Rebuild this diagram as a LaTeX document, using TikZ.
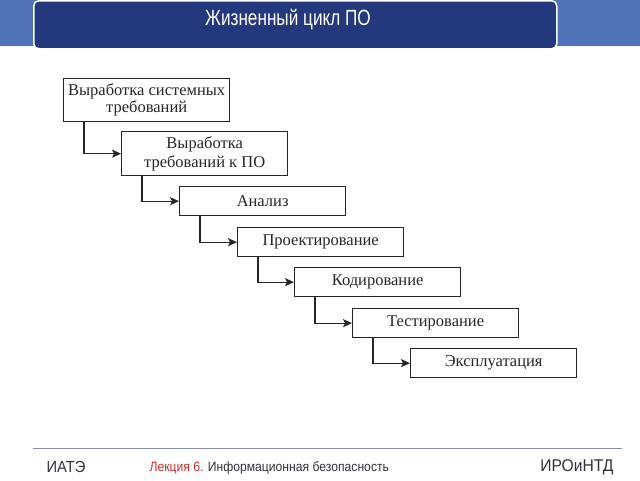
\documentclass[tikz,border=0pt]{standalone}
\usepackage{fontspec}
\setmainfont{Liberation Serif}
\newfontfamily\hdfont[FakeStretch=0.78]{Liberation Sans}
\newfontfamily\ftfont[FakeStretch=0.92]{Liberation Sans}
\newfontfamily\ftnarrow[FakeStretch=0.9]{Liberation Sans}
\usetikzlibrary{arrows.meta}
\definecolor{band}{RGB}{79,116,186}
\definecolor{navy}{RGB}{36,56,125}
\definecolor{fline}{RGB}{128,142,184}
\definecolor{ftext}{RGB}{50,50,60}
\definecolor{fred}{RGB}{220,40,40}
\tikzset{
  stage/.style={draw=black!85, line width=1.3pt, fill=white, minimum width=166pt, align=center, inner sep=0pt, text=black!85, font=\fontsize{16.5}{17}\selectfont},
  link/.style={draw=black!85, line width=1.3pt, -{Stealth[length=9pt,width=8pt,inset=2pt]}},
}
\begin{document}
\begin{tikzpicture}[x=1pt,y=-1pt]
\useasboundingbox (0,0) rectangle (640,480);
\fill[white] (0,0) rectangle (640,480);
% header
\fill[band] (0,0) rectangle (640,46);
\node[draw=white, line width=1.5pt, fill=navy, rounded corners=5pt, minimum width=523pt, minimum height=48pt, anchor=north west] (title) at (33,0) {};
\node[text=white, font=\hdfont\fontsize{22}{24}\selectfont] (titletext) at (288,20) {Жизненный цикл ПО};
% stages
\node[stage, minimum height=43pt, anchor=north west] (s1) at (63,78) {Выработка системных\\требований};
\node[stage, minimum height=44pt, anchor=north west, font=\fontsize{16.5}{19.5}\selectfont] (s2) at (121,131) {Выработка\\требований к ПО};
\node[stage, minimum height=29pt, anchor=north west] (s3) at (179,186) {Анализ};
\node[stage, minimum height=29pt, anchor=north west] (s4) at (237,227) {Проектирование};
\node[stage, minimum height=29pt, anchor=north west] (s5) at (294,267) {Кодирование};
\node[stage, minimum height=29pt, anchor=north west] (s6) at (352,308) {Тестирование};
\node[stage, minimum height=29pt, anchor=north west] (s7) at (410,348) {Эксплуатация};
% connectors
\foreach \a/\b in {s1/s2,s2/s3,s3/s4,s4/s5,s5/s6,s6/s7}{
  \draw[link] ([xshift=21pt]\a.south west) |- (\b.west);
}
% footer
\coordinate (fl) at (33,448);
\coordinate (fr) at (622,448);
\draw[fline, line width=1pt] (fl) -- (fr);
\node[anchor=west, text=ftext, font=\ftfont\fontsize{16}{17}\selectfont] (iate) at (43,467) {ИАТЭ};
\node[anchor=west, font=\ftnarrow\fontsize{13.5}{14}\selectfont] (lect) at (146,468) {\textcolor{fred}{Лекция 6.} \textcolor{ftext}{Информационная безопасность}};
\node[anchor=east, text=ftext, font=\ftfont\fontsize{17}{18}\selectfont] (iro) at (617,467) {ИРОиНТД};
\end{tikzpicture}
\end{document}
